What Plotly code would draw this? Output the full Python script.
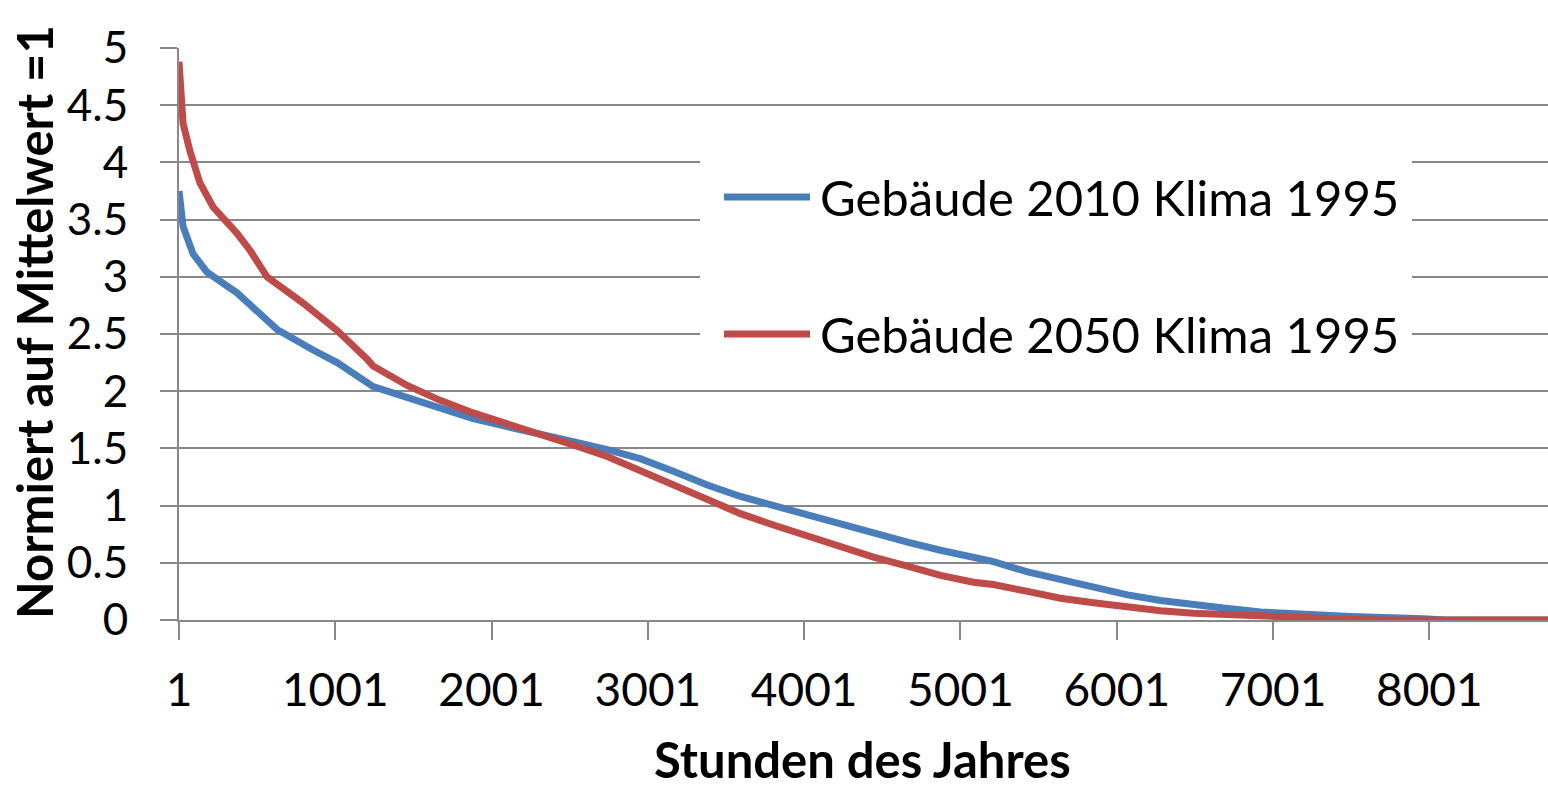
import plotly.graph_objects as go

# Stunden des Jahres (sorted duration curve)
hours_2010 = [1, 10, 27, 91, 180, 372, 500, 628, 859, 1013, 1243, 1461, 1672, 1883, 2101,
              2312, 2523, 2741, 2952, 3164, 3381, 3593, 3804, 4021, 4233, 4444, 4662, 4873,
              5084, 5212, 5430, 5641, 5852, 6070, 6281, 6493, 6710, 6922, 7133, 7498, 7965,
              8100, 8760]
vals_2010 = [3.75, 3.6, 3.44, 3.2, 3.04, 2.86, 2.71, 2.54, 2.36, 2.25, 2.04, 1.94, 1.85, 1.76, 1.69,
             1.63, 1.56, 1.49, 1.41, 1.30, 1.18, 1.08, 1.00, 0.92, 0.83, 0.76, 0.68, 0.61,
             0.54, 0.51, 0.42, 0.35, 0.29, 0.22, 0.17, 0.13, 0.10, 0.07, 0.05, 0.03, 0.01,
             0.0, 0.0]

hours_2050 = [1, 12, 27, 71, 135, 219, 372, 456, 564, 795, 1013, 1205, 1243, 1461, 1672, 1883, 2101,
              2312, 2523, 2741, 2952, 3164, 3381, 3593, 3804, 4021, 4233, 4444, 4662, 4873,
              5084, 5212, 5430, 5641, 5852, 6070, 6281, 6493, 6710, 7133, 7500, 7700, 8760]
vals_2050 = [4.88, 4.6, 4.34, 4.1, 3.82, 3.61, 3.38, 3.23, 3.0, 2.77, 2.53, 2.28, 2.22, 2.05, 1.92, 1.81, 1.72,
             1.62, 1.53, 1.43, 1.31, 1.19, 1.06, 0.93, 0.83, 0.73, 0.64, 0.55, 0.47, 0.39,
             0.33, 0.31, 0.25, 0.19, 0.15, 0.11, 0.08, 0.06, 0.045, 0.02, 0.005, 0.0, 0.0]

series_names = ["Gebäude 2010 Klima 1995", "Gebäude 2050 Klima 1995"]
series_colors = ["#4A7EBB", "#BE4B48"]

x_tickvals = [1, 1001, 2001, 3001, 4001, 5001, 6001, 7001, 8001]
y_tickvals = [0, 0.5, 1, 1.5, 2, 2.5, 3, 3.5, 4, 4.5, 5]
y_ticktext = ["0", "0.5", "1", "1.5", "2", "2.5", "3", "3.5", "4", "4.5", "5"]

FONT = "Lato"
GRID = "#888888"

fig = go.Figure()
fig.add_trace(go.Scatter(x=hours_2010, y=vals_2010, mode="lines", name=series_names[0],
                         line=dict(color=series_colors[0], width=7), showlegend=False))
fig.add_trace(go.Scatter(x=hours_2050, y=vals_2050, mode="lines", name=series_names[1],
                         line=dict(color=series_colors[1], width=7), showlegend=False))

# legend drawn manually (white box hiding gridlines, long line samples)
L, T, B = 179.0, 48.0, 620.0
W, H = 1548.0 - L, B - T
def px(x): return (x - L) / W
def py(y): return (B - y) / H

shapes = [dict(type="rect", xref="paper", yref="paper", x0=px(700), x1=px(1412),
               y0=py(362), y1=py(140), fillcolor="white", line=dict(width=0), layer="above")]
annotations = []
for i, (nm, col) in enumerate(zip(series_names, series_colors)):
    yy = [197, 334][i]
    shapes.append(dict(type="line", xref="paper", yref="paper", x0=px(724), x1=px(810),
                       y0=py(yy), y1=py(yy), line=dict(color=col, width=7), layer="above"))
    annotations.append(dict(xref="paper", yref="paper", x=px(818), y=py(yy), text=nm,
                            showarrow=False, xanchor="left", yanchor="middle",
                            font=dict(family=FONT, size=49, color="black")))

annotations.append(dict(xref="paper", yref="paper", x=px(34), y=py(322),
                        text="<b>Normiert auf Mittelwert =1</b>", textangle=-90,
                        showarrow=False, xanchor="center", yanchor="middle",
                        font=dict(family=FONT, size=49, color="black")))
annotations.append(dict(xref="paper", yref="paper", x=px(862), y=py(759),
                        text="<b>Stunden des Jahres</b>", borderpad=0,
                        showarrow=False, xanchor="center", yanchor="middle",
                        font=dict(family=FONT, size=49, color="black")))

fig.update_layout(
    width=1548, height=791,
    margin=dict(l=179, r=0, t=48, b=171, autoexpand=False),
    paper_bgcolor="white", plot_bgcolor="white",
    shapes=shapes, annotations=annotations,
    font=dict(family=FONT, color="black"),
)
fig.update_xaxes(range=[1, 8760], tickvals=x_tickvals, ticks="outside", ticklen=18,
                 tickwidth=2, tickcolor=GRID, showgrid=False, showline=True,
                 linecolor=GRID, linewidth=2, zeroline=False, automargin=False,
                 tickfont=dict(family=FONT, size=46, color="black"), ticklabelstandoff=11)
fig.update_yaxes(range=[0, 5], tickvals=y_tickvals, ticktext=y_ticktext, ticks="outside",
                 ticklen=17, tickwidth=2, tickcolor=GRID, showgrid=True, gridcolor=GRID,
                 gridwidth=2, showline=True, linecolor=GRID, linewidth=2, zeroline=False,
                 automargin=False,
                 tickfont=dict(family=FONT, size=44, color="black"), ticklabelstandoff=23)

fig.write_html("out.html", config={"displayModeBar": False},
               post_script="document.body.style.margin='0';document.body.style.overflow='hidden';")
